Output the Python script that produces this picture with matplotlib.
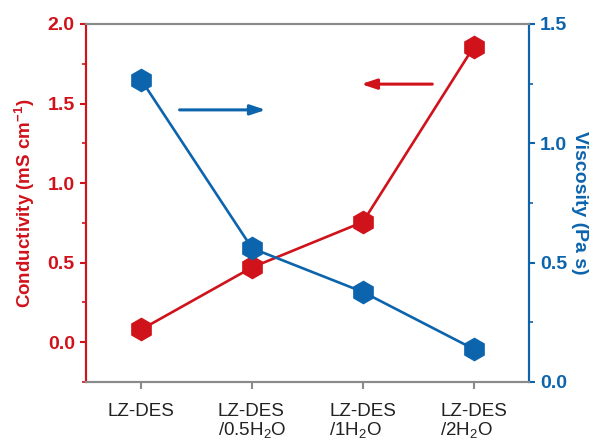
import matplotlib.pyplot as plt
from matplotlib.ticker import MultipleLocator

plt.rcParams['font.family'] = ['Liberation Sans', 'DejaVu Sans']
plt.rcParams['mathtext.fontset'] = 'custom'
plt.rcParams['mathtext.rm'] = 'Liberation Sans'
plt.rcParams['mathtext.bf'] = 'Liberation Sans:bold'

samples = ['LZ-DES', 'LZ-DES\n/0.5H$_2$O', 'LZ-DES\n/1H$_2$O', 'LZ-DES\n/2H$_2$O']
conductivity = [0.08, 0.47, 0.755, 1.855]
viscosity = [1.265, 0.56, 0.377, 0.138]

RED = '#d0121b'
BLUE = '#0c64ad'
GRAY = '#8a8a8a'

fig = plt.figure(figsize=(5.93, 4.41), dpi=100)
ax = fig.add_axes([0.145, 0.134, 0.747, 0.8116])
ax2 = ax.twinx()

x = range(len(samples))
ax.plot(x, conductivity, color=RED, lw=1.9, marker='h', ms=16, zorder=3)
ax2.plot(x, viscosity, color=BLUE, lw=1.9, marker='h', ms=16, zorder=3)

ax.set_xlim(-0.5, 3.5)
ax.set_ylim(-0.25, 2.0)
ax2.set_ylim(0, 1.5)

ax.set_xticks(list(x))
ax.set_xticklabels(samples, fontsize=13.5, color='#222222', linespacing=1.05,
                   multialignment='left')
ax.yaxis.set_major_locator(MultipleLocator(0.5))
ax.yaxis.set_minor_locator(MultipleLocator(0.25))
ax2.yaxis.set_major_locator(MultipleLocator(0.5))
ax2.yaxis.set_minor_locator(MultipleLocator(0.25))

for lab in ax.get_yticklabels():
    lab.set_fontweight('bold')
for lab in ax2.get_yticklabels():
    lab.set_fontweight('bold')

ax.tick_params(axis='y', colors=RED, labelsize=14, width=1.5, length=4, pad=4)
ax.tick_params(axis='y', which='minor', colors=RED, width=1.2, length=3)
ax.tick_params(axis='x', colors=GRAY, labelcolor='#222222', width=1.5, length=5, pad=10)
ax2.tick_params(axis='y', colors=BLUE, labelsize=14, width=1.5, length=4, pad=4)
ax2.tick_params(axis='y', which='minor', colors=BLUE, width=1.2, length=3)

for a in (ax, ax2):
    a.spines['left'].set_color(RED)
    a.spines['right'].set_color(BLUE)
    a.spines['top'].set_color(GRAY)
    a.spines['bottom'].set_color(GRAY)
    for s in a.spines.values():
        s.set_linewidth(1.5)

ax.set_ylabel('Conductivity (mS cm$^{\\mathbf{-1}}$)', color=RED, fontsize=13.5,
              fontweight='bold', labelpad=8)
ax2.set_ylabel('Viscosity (Pa s)', color=BLUE, fontsize=14, fontweight='bold',
               rotation=270, labelpad=15)

ax.annotate('', xy=(0.412, 0.76), xytext=(0.205, 0.76), xycoords='axes fraction',
            arrowprops=dict(arrowstyle='-|>,head_length=0.9,head_width=0.3',
                            color=BLUE, lw=2.2))
ax.annotate('', xy=(0.615, 0.832), xytext=(0.788, 0.832), xycoords='axes fraction',
            arrowprops=dict(arrowstyle='-|>,head_length=0.9,head_width=0.3',
                            color=RED, lw=2.2))

fig.savefig('out.png', dpi=100)
